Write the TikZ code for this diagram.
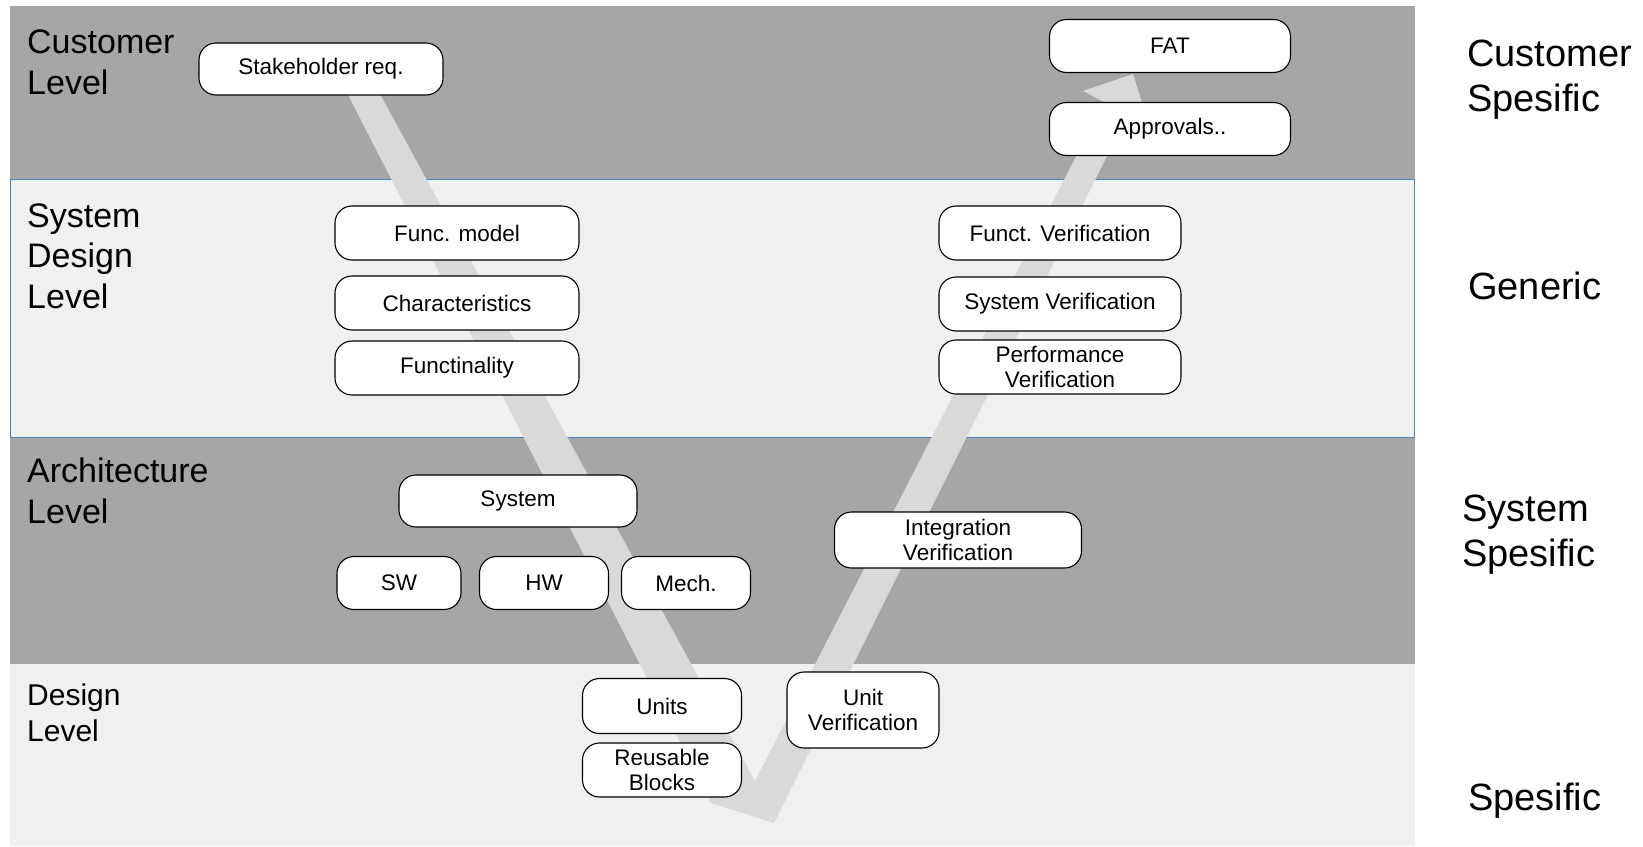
\documentclass[tikz,border=0pt]{standalone}
\usepackage{fontspec}
\setmainfont{Liberation Sans}
\definecolor{bandD}{HTML}{A6A6A6}
\definecolor{bandL}{HTML}{F0F0F0}
\definecolor{vcol}{HTML}{D9D9D9}
\definecolor{bline}{HTML}{4F81BD}
\tikzset{
  box/.style={draw=black, line width=1.1pt, fill=white, rounded corners=17pt,
    inner sep=0pt, align=center, font=\fontsize{22.5}{25.5}\selectfont},
  lvl/.style={anchor=base west, inner sep=0pt, align=left, font=\fontsize{34}{40.5}\selectfont},
  rlbl/.style={anchor=base west, inner sep=0pt, align=left, font=\fontsize{38}{44.5}\selectfont},
}
\begin{document}
\begin{tikzpicture}[x=1pt,y=-1pt]
\useasboundingbox (0,0) rectangle (1643,846);
% bands
\fill[bandD] (10,6) rectangle (1415,179);
\fill[bandL] (10,179) rectangle (1415,437);
\fill[bandD] (10,437) rectangle (1415,664);
\fill[bandL] (10,664) rectangle (1415,846);
\draw[bline, line width=1pt] (10.5,179) rectangle (1414.5,437);
% V arrow
\fill[vcol] (343,85) -- (711,803) -- (774,823) -- (1128,114) -- (1149,125)
  -- (1133,74) -- (1083,91) -- (1104,102) -- (755,781) -- (375,85) -- cycle;
% level labels (anchored at the baseline of the last line)
\node[lvl] (l1) at (27,94) {Customer\\Level};
\node[lvl] (l2) at (27,308) {System\\Design\\Level};
\node[lvl] (l3) at (27,523) {Architecture\\Level};
\node[lvl, font=\fontsize{30}{35.5}\selectfont] (l4) at (27,741) {Design\\Level};
% right labels
\node[rlbl] (r1) at (1467,111) {Customer\\Spesific};
\node[rlbl] (r2) at (1468,299) {Generic};
\node[rlbl] (r3) at (1462,566) {System\\Spesific};
\node[rlbl] (r4) at (1468,810) {Spesific};
% boxes
\node[box, minimum width=244pt, minimum height=52pt] (stake) at (321,69) {Stakeholder req.};
\node[box, minimum width=241pt, minimum height=53pt] (fat) at (1170,46) {FAT};
\node[box, minimum width=241pt, minimum height=53pt] (appr) at (1170,129) {Approvals..};
\node[box, minimum width=244pt, minimum height=54pt] (fmod) at (457,233) {Func. model};
\node[box, minimum width=244pt, minimum height=54pt] (char) at (457,303) {Characteristics};
\node[box, minimum width=244pt, minimum height=54pt] (func) at (457,368) {Functinality};
\node[box, minimum width=242pt, minimum height=54pt] (fver) at (1060,233) {Funct. Verification};
\node[box, minimum width=242pt, minimum height=54pt] (sver) at (1060,304) {System Verification};
\node[box, minimum width=242pt, minimum height=54pt] (pver) at (1060,367) {Performance\\Verification};
\node[box, minimum width=238pt, minimum height=52pt] (sys) at (518,501) {System};
\node[box, minimum width=124pt, minimum height=53pt] (sw) at (399,583) {SW};
\node[box, minimum width=129pt, minimum height=53pt] (hw) at (544,583) {HW};
\node[box, minimum width=129pt, minimum height=53pt] (mech) at (686,583) {Mech.};
\node[box, minimum width=247pt, minimum height=56pt] (iver) at (958,540) {Integration\\Verification};
\node[box, minimum width=159pt, minimum height=55pt] (units) at (662,706) {Units};
\node[box, minimum width=159pt, minimum height=54pt] (reuse) at (662,770) {Reusable\\Blocks};
\node[box, minimum width=152pt, minimum height=76pt] (uver) at (863,710) {Unit\\Verification};
\end{tikzpicture}
\end{document}
